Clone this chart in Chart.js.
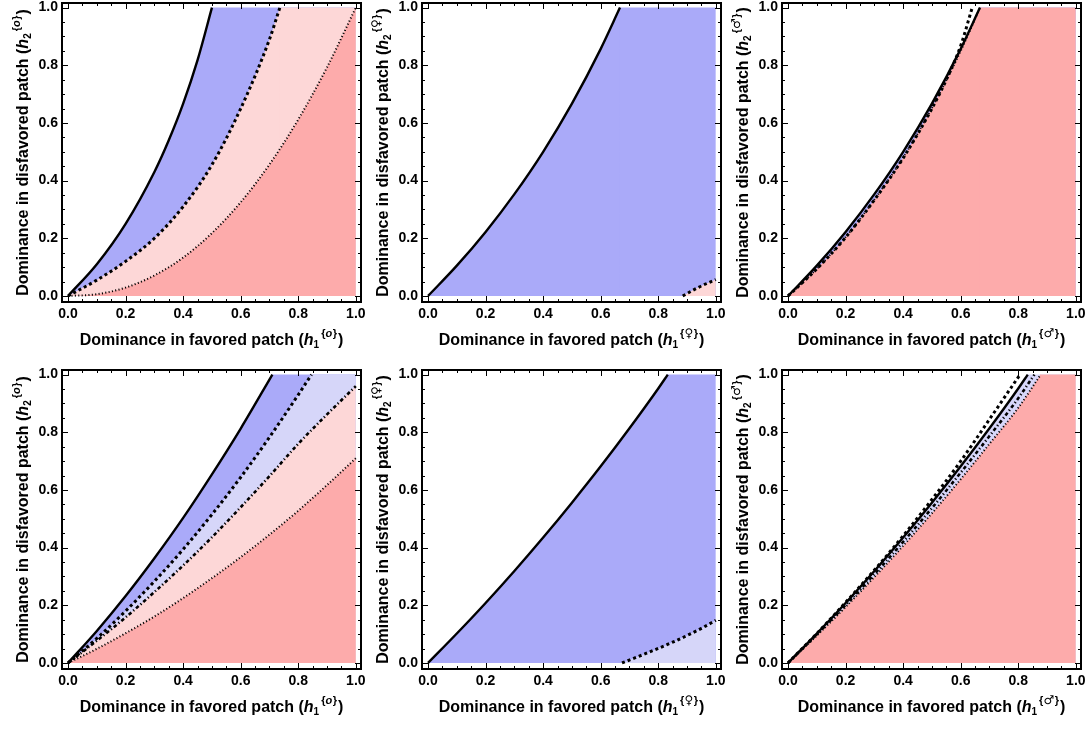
<!DOCTYPE html>
<html>
<head>
<meta charset="utf-8">
<script src="https://cdn.jsdelivr.net/npm/chart.js@4.4.1/dist/chart.umd.min.js"></script>
<style>
  html, body { margin: 0; padding: 0; background: #fff; }
  #wrap { position: relative; width: 1092px; height: 730px; overflow: hidden; }
  canvas { position: absolute; }
</style>
</head>
<body>
<div id="wrap"></div>
<script>
// ---- axis ticks ----
const TICKS = [0, 0.2, 0.4, 0.6, 0.8, 1.0];
const MINOR_TICKS = [0.05, 0.1, 0.15, 0.25, 0.3, 0.35, 0.45, 0.5, 0.55, 0.65, 0.7, 0.75, 0.85, 0.9, 0.95];

// ---- panel 1 (top left) ----
const P1_SOLID_X = [0, 0.1, 0.2, 0.3, 0.35, 0.4, 0.45, 0.5];
const P1_SOLID_Y = [0, 0.11, 0.25, 0.43, 0.54, 0.667, 0.818, 1];
const P1_DASH_X = [0, 0.1, 0.2, 0.3, 0.4, 0.5, 0.6, 0.7, 0.736];
const P1_DASH_Y = [0, 0.055, 0.12, 0.2, 0.31, 0.455, 0.65, 0.89, 1];
const P1_DOT_X = [0, 0.1, 0.2, 0.3, 0.4, 0.5, 0.6, 0.7, 0.8, 0.9, 1];
const P1_DOT_Y = [0, 0.006, 0.029, 0.071, 0.133, 0.218, 0.325, 0.456, 0.612, 0.793, 1];

// ---- panel 2 (top middle) ----
const P2_SOLID_X = [0, 0.1, 0.2, 0.3, 0.4, 0.5, 0.6, 0.667];
const P2_SOLID_Y = [0, 0.105, 0.222, 0.353, 0.5, 0.667, 0.857, 1];
const P2_DASH_X = [0.885, 0.94, 1];
const P2_DASH_Y = [0, 0.03, 0.057];

// ---- panel 3 (top right) ----
const P3_SOLID_X = [0, 0.1, 0.2, 0.3, 0.4, 0.5, 0.6, 0.667];
const P3_SOLID_Y = [0, 0.105, 0.222, 0.353, 0.5, 0.667, 0.857, 1];
const P3_DASH_X = [0, 0.1, 0.2, 0.3, 0.4, 0.5, 0.55, 0.6, 0.64];
const P3_DASH_Y = [0, 0.094, 0.203, 0.333, 0.478, 0.65, 0.75, 0.868, 1];
const P3_DOT_X = [0, 0.1, 0.2, 0.3, 0.4, 0.5, 0.6, 0.667];
const P3_DOT_Y = [0, 0.094, 0.204, 0.334, 0.48, 0.652, 0.85, 1];

// ---- panel 4 (bottom left) ----
const P4_SOLID_X = [0, 0.1, 0.2, 0.3, 0.4, 0.5, 0.6, 0.71];
const P4_SOLID_Y = [0, 0.111, 0.232, 0.363, 0.503, 0.654, 0.813, 1];
const P4_DASH_X = [0, 0.1, 0.2, 0.3, 0.4, 0.5, 0.6, 0.7, 0.8, 0.846];
const P4_DASH_Y = [0, 0.085, 0.18, 0.283, 0.394, 0.515, 0.644, 0.783, 0.93, 1];
const P4_DDOT_X = [0, 0.1, 0.2, 0.3, 0.4, 0.5, 0.6, 0.7, 0.8, 0.9, 1];
const P4_DDOT_Y = [0, 0.077, 0.158, 0.246, 0.338, 0.436, 0.54, 0.648, 0.76, 0.862, 0.96];
const P4_DOT_X = [0, 0.1, 0.2, 0.3, 0.4, 0.5, 0.6, 0.7, 0.8, 0.9, 1];
const P4_DOT_Y = [0, 0.049, 0.103, 0.161, 0.225, 0.294, 0.367, 0.445, 0.528, 0.617, 0.71];

// ---- panel 5 (bottom middle) ----
const P5_SOLID_X = [0, 0.1, 0.2, 0.3, 0.4, 0.5, 0.6, 0.7, 0.8, 0.833];
const P5_SOLID_Y = [0, 0.102, 0.208, 0.319, 0.435, 0.556, 0.682, 0.814, 0.952, 1];
const P5_DASH_X = [0.674, 0.75, 0.85, 0.95, 1];
const P5_DASH_Y = [0, 0.03, 0.072, 0.12, 0.148];

// ---- panel 6 (bottom right) ----
const P6_SOLID_X = [0, 0.1, 0.2, 0.3, 0.4, 0.5, 0.6, 0.7, 0.8, 0.833];
const P6_SOLID_Y = [0, 0.102, 0.208, 0.319, 0.435, 0.556, 0.682, 0.814, 0.952, 1];
const P6_DASH_X = [0, 0.1, 0.2, 0.3, 0.4, 0.5, 0.6, 0.7, 0.806];
const P6_DASH_Y = [0, 0.102, 0.21, 0.322, 0.441, 0.567, 0.7, 0.845, 1];
const P6_DDOT_X = [0, 0.1, 0.2, 0.3, 0.4, 0.5, 0.6, 0.7, 0.8, 0.856];
const P6_DDOT_Y = [0, 0.099, 0.201, 0.308, 0.42, 0.537, 0.66, 0.787, 0.918, 1];
const P6_DOT_X = [0, 0.1, 0.2, 0.3, 0.4, 0.5, 0.6, 0.7, 0.8, 0.878];
const P6_DOT_Y = [0, 0.095, 0.194, 0.298, 0.406, 0.519, 0.637, 0.76, 0.885, 1];

// ---- colours / styles ----
const BLUE = "#aaaaf9";
const LIGHT_BLUE = "#d6d6f9";
const LIGHT_PINK = "#fdd7d7";
const PINK = "#fdabab";
const FONT = '"Liberation Sans", Arial, Helvetica, sans-serif';
const SYM_FONT = '"DejaVu Sans", "Liberation Sans", sans-serif';

const LINE_STYLES = {
  solid:   { borderWidth: 2.4, borderDash: [] },
  dashed:  { borderWidth: 3, borderDash: [3, 3] },
  dotted:  { borderWidth: 2, borderDash: [1.1, 2.3] },
  dashdot: { borderWidth: 2.6, borderDash: [3.5, 2.5, 1.2, 2.5] }
};

function pts(xs, ys) {
  return xs.map((x, i) => ({ x: x, y: ys[i] }));
}

// filled region under a curve, with the flat top (y = 1) out to x = 1
function fillSets(xs, ys, color, order) {
  const base = {
    fill: "origin", backgroundColor: color, borderColor: "rgba(0,0,0,0)",
    borderWidth: 0, pointRadius: 0, order: order
  };
  const sets = [Object.assign({ data: pts(xs, ys), cubicInterpolationMode: "monotone" }, base)];
  const n = xs.length - 1;
  if (ys[n] >= 1 && xs[n] < 1) {
    sets.push(Object.assign({ data: [{ x: xs[n] - 0.003, y: 1 }, { x: 1, y: 1 }] }, base));
  }
  return sets;
}

function lineSet(xs, ys, style) {
  return Object.assign({
    data: pts(xs, ys), fill: false, borderColor: "#000", pointRadius: 0,
    cubicInterpolationMode: "monotone", borderCapStyle: "butt", order: 0
  }, LINE_STYLES[style]);
}

// ---- axis titles with sub/superscripts ----
function drawRich(ctx, parts, x, y) {
  let total = 0;
  parts.forEach(p => { ctx.font = p.font; p.w = ctx.measureText(p.t).width + (p.gap || 0); total += p.w; });
  let cx = x - total / 2;
  parts.forEach(p => {
    ctx.font = p.font;
    ctx.fillText(p.t, cx + (p.gap || 0), y + (p.dy || 0));
    cx += p.w;
  });
}

function titleParts(label, sub, sym) {
  const symFont = sym === "o" ? "italic bold 11px " + FONT : "bold 12px " + SYM_FONT;
  return [
    { t: label + " (", font: "bold 16px " + FONT },
    { t: "h", font: "italic bold 16px " + FONT },
    { t: sub, font: "bold 10px " + FONT, dy: 3 },
    { t: "{", font: "bold 11px " + FONT, dy: -8, gap: 2 },
    { t: sym, font: symFont, dy: -8 },
    { t: "}", font: "bold 11px " + FONT, dy: -8, gap: 0.5 },
    { t: ")", font: "bold 16px " + FONT, gap: 1 }
  ];
}

const framePlugin = {
  id: "frame",
  afterDraw(chart, args, opts) {
    const ctx = chart.ctx;
    const a = chart.chartArea;
    const sx = chart.scales.x, sy = chart.scales.y;
    ctx.save();
    ctx.strokeStyle = "#000";
    ctx.lineWidth = 1;
    ctx.beginPath();
    TICKS.concat(MINOR_TICKS).forEach(v => {
      const len = TICKS.includes(v) ? 6 : 3;
      const px = Math.round(sx.getPixelForValue(v)) + 0.5;
      const py = Math.round(sy.getPixelForValue(v)) + 0.5;
      ctx.moveTo(px, a.bottom); ctx.lineTo(px, a.bottom - len);
      ctx.moveTo(px, a.top); ctx.lineTo(px, a.top + len);
      ctx.moveTo(a.left, py); ctx.lineTo(a.left + len, py);
      ctx.moveTo(a.right, py); ctx.lineTo(a.right - len, py);
    });
    ctx.stroke();
    ctx.lineWidth = 2;
    ctx.strokeRect(a.left, a.top, a.right - a.left, a.bottom - a.top);

    ctx.fillStyle = "#000";
    ctx.textBaseline = "alphabetic";
    drawRich(ctx, titleParts("Dominance in favored patch", "1", opts.sym), (a.left + a.right) / 2, a.bottom + 43);
    ctx.translate(28, (a.top + a.bottom) / 2);
    ctx.rotate(-Math.PI / 2);
    drawRich(ctx, titleParts("Dominance in disfavored patch", "2", opts.sym), 0, 0);
    ctx.restore();
  }
};

function makeScale(axis, min, max) {
  return {
    type: "linear", min: min, max: max,
    afterBuildTicks: s => { s.ticks = TICKS.map(v => ({ value: v })); },
    ticks: {
      callback: v => Number(v).toFixed(1),
      font: { family: FONT, size: 14, weight: "bold" },
      color: "#000", padding: 4, autoSkip: false, maxRotation: 0
    },
    grid: { display: false, drawTicks: false },
    border: { display: false },
    afterFit: s => {
      if (axis === "x") { s.height = 61; s.paddingLeft = 0; s.paddingRight = 0; }
      else { s.width = 62; s.paddingTop = 0; s.paddingBottom = 0; }
    }
  };
}

function makePanel(left, top, sym, datasets) {
  const canvas = document.createElement("canvas");
  canvas.width = 372;
  canvas.height = 363;
  canvas.style.left = left + "px";
  canvas.style.top = top + "px";
  document.getElementById("wrap").appendChild(canvas);
  new Chart(canvas, {
    type: "line",
    data: { datasets: datasets },
    options: {
      responsive: false, animation: false, events: [],
      layout: { padding: { left: 0, top: 3, right: 11, bottom: 0 } },
      scales: { x: makeScale("x", -0.021, 1.018), y: makeScale("y", -0.021, 1.016) },
      plugins: { legend: { display: false }, tooltip: { enabled: false }, frame: { sym: sym } }
    },
    plugins: [framePlugin]
  });
}

makePanel(0, 0, "o", [
  ...fillSets(P1_SOLID_X, P1_SOLID_Y, BLUE, 30),
  ...fillSets(P1_DASH_X, P1_DASH_Y, LIGHT_PINK, 20),
  ...fillSets(P1_DOT_X, P1_DOT_Y, PINK, 10),
  lineSet(P1_SOLID_X, P1_SOLID_Y, "solid"),
  lineSet(P1_DASH_X, P1_DASH_Y, "dashed"),
  lineSet(P1_DOT_X, P1_DOT_Y, "dotted")
]);

makePanel(360, 0, "\u2640", [
  ...fillSets(P2_SOLID_X, P2_SOLID_Y, BLUE, 30),
  ...fillSets(P2_DASH_X, P2_DASH_Y, LIGHT_PINK, 20),
  lineSet(P2_SOLID_X, P2_SOLID_Y, "solid"),
  lineSet(P2_DASH_X, P2_DASH_Y, "dashed")
]);

makePanel(720, 0, "\u2642", [
  ...fillSets(P3_SOLID_X, P3_SOLID_Y, BLUE, 30),
  ...fillSets(P3_DOT_X, P3_DOT_Y, PINK, 20),
  lineSet(P3_DASH_X, P3_DASH_Y, "dashed"),
  lineSet(P3_SOLID_X, P3_SOLID_Y, "solid"),
  lineSet(P3_DOT_X, P3_DOT_Y, "dotted")
]);

makePanel(0, 367, "o", [
  ...fillSets(P4_SOLID_X, P4_SOLID_Y, BLUE, 40),
  ...fillSets(P4_DASH_X, P4_DASH_Y, LIGHT_BLUE, 30),
  ...fillSets(P4_DDOT_X, P4_DDOT_Y, LIGHT_PINK, 20),
  ...fillSets(P4_DOT_X, P4_DOT_Y, PINK, 10),
  lineSet(P4_SOLID_X, P4_SOLID_Y, "solid"),
  lineSet(P4_DASH_X, P4_DASH_Y, "dashed"),
  lineSet(P4_DDOT_X, P4_DDOT_Y, "dashdot"),
  lineSet(P4_DOT_X, P4_DOT_Y, "dotted")
]);

makePanel(360, 367, "\u2640", [
  ...fillSets(P5_SOLID_X, P5_SOLID_Y, BLUE, 30),
  ...fillSets(P5_DASH_X, P5_DASH_Y, LIGHT_BLUE, 20),
  lineSet(P5_SOLID_X, P5_SOLID_Y, "solid"),
  lineSet(P5_DASH_X, P5_DASH_Y, "dashed")
]);

makePanel(720, 367, "\u2642", [
  ...fillSets(P6_SOLID_X, P6_SOLID_Y, LIGHT_BLUE, 30),
  ...fillSets(P6_DOT_X, P6_DOT_Y, PINK, 20),
  lineSet(P6_DASH_X, P6_DASH_Y, "dashed"),
  lineSet(P6_SOLID_X, P6_SOLID_Y, "solid"),
  lineSet(P6_DDOT_X, P6_DDOT_Y, "dashdot"),
  lineSet(P6_DOT_X, P6_DOT_Y, "dotted")
]);
</script>
</body>
</html>
